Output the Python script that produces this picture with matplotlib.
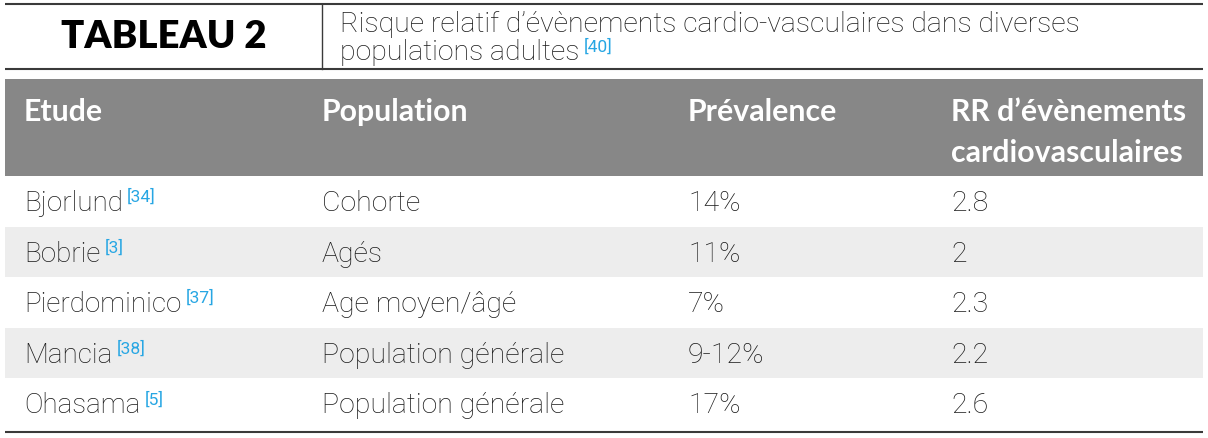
import matplotlib
matplotlib.use("Agg")
import matplotlib.pyplot as plt
from matplotlib.patches import Rectangle

# table content
title_no = "TABLEAU 2"
title_lines = ["Risque relatif d\u2019\u00e9v\u00e8nements cardio-vasculaires dans diverses",
               "populations adultes"]
title_ref = "[40]"
headers = ["Etude", "Population", "Pr\u00e9valence", "RR d\u2019\u00e9v\u00e8nements\ncardiovasculaires"]
studies = ["Bjorlund", "Bobrie", "Pierdominico", "Mancia", "Ohasama"]
refs = ["[34]", "[3]", "[37]", "[38]", "[5]"]
populations = ["Cohorte", "Ag\u00e9s", "Age moyen/\u00e2g\u00e9", "Population g\u00e9n\u00e9rale", "Population g\u00e9n\u00e9rale"]
prevalence = ["14%", "11%", "7%", "9-12%", "17%"]
rr = ["2.8", "2", "2.3", "2.2", "2.6"]

W, H = 1208, 438
BODY = ["Roboto", "DejaVu Sans"]
HEAD = ["Lato", "DejaVu Sans"]
col_x = [24, 322, 688, 951]
cyan = "#27a6e3"
ink = "#1a1a1a"

fig = plt.figure(figsize=(W / 100, H / 100), dpi=100)
ax = fig.add_axes([0, 0, 1, 1])
ax.set_xlim(0, W)
ax.set_ylim(H, 0)
ax.axis("off")
renderer = fig.canvas.get_renderer()


def right_edge(t):
    bb = t.get_window_extent(renderer=renderer)
    return ax.transData.inverted().transform((bb.x1, bb.y0))[0]


# title block
ax.plot([5, 1203], [4, 4], color="#3a3a3a", lw=1.5, solid_capstyle="butt")
ax.plot([5, 1203], [69, 69], color="#3a3a3a", lw=1.5, solid_capstyle="butt")
ax.plot([322, 322], [4, 69], color="#3a3a3a", lw=1.0)
ax.text(164, 48, title_no, ha="center", va="baseline", fontsize=27.5,
        fontweight="heavy", family=HEAD, color="black")
ax.text(340, 32, title_lines[0], ha="left", va="baseline", fontsize=20.4,
        fontweight="light", family=BODY, color=ink)
t = ax.text(340, 60, title_lines[1], ha="left", va="baseline", fontsize=20.4,
            fontweight="light", family=BODY, color=ink)
ax.text(right_edge(t) + 4, 52, title_ref, ha="left", va="baseline", fontsize=12.5,
        family=BODY, color=cyan)

# header band
ax.add_patch(Rectangle((5, 79), 1198, 97, facecolor="#878787", edgecolor="none"))
for x, h in zip(col_x, headers):
    for k, line in enumerate(h.split("\n")):
        ax.text(x, 121 + 41 * k, line, ha="left", va="baseline", fontsize=21.8,
                fontweight="bold", family=HEAD, color="white")

# body rows
row_top, row_h = 176, 50.6
for i in range(len(studies)):
    y0 = row_top + i * row_h
    if i % 2 == 1:
        ax.add_patch(Rectangle((5, y0), 1198, row_h, facecolor="#ededed", edgecolor="none"))
    base = y0 + 35
    t = ax.text(col_x[0], base, studies[i], ha="left", va="baseline", fontsize=20,
                fontweight="light", family=BODY, color=ink)
    ax.text(right_edge(t) + 4, base - 9, refs[i], ha="left", va="baseline", fontsize=12.5,
            family=BODY, color=cyan)
    for x, val in zip(col_x[1:], [populations[i], prevalence[i], rr[i]]):
        ax.text(x, base, val, ha="left", va="baseline", fontsize=20.5,
                fontweight="light", family=BODY, color=ink)

ax.plot([5, 1203], [432, 432], color="#3a3a3a", lw=1.5, solid_capstyle="butt")

fig.savefig("out.png", dpi=100)
